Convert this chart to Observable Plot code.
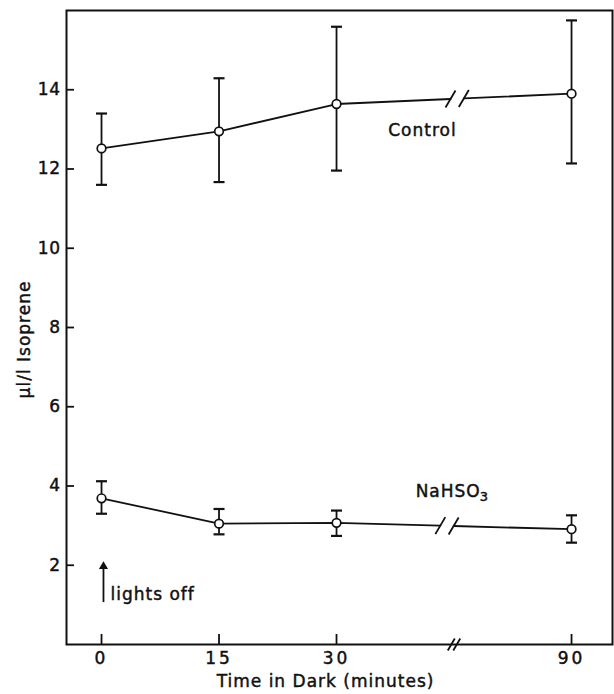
<!DOCTYPE html>
<html><head><meta charset="utf-8">
<script src="https://cdn.jsdelivr.net/npm/d3@7"></script>
<script src="https://cdn.jsdelivr.net/npm/@observablehq/plot@0.6"></script>
<style>
body{margin:0;background:#fff}
svg text{letter-spacing:1px;stroke:#111;stroke-width:0.45px}
g[aria-label="x-axis tick label"] text{letter-spacing:3px}
g[aria-label="y-axis tick label"] text{letter-spacing:0.5px}
</style>
</head><body><div id="chart"></div>
<script>
// Data
const times = [0, 15, 30, 90];
const tickLabels = ["0", "15", "30", "90"];
const seriesNames = ["Control", "NaHSO3"];
const control = [12.52, 12.95, 13.64, 13.90];
const controlLo = [11.60, 11.67, 11.96, 12.14];
const controlHi = [13.40, 14.29, 15.59, 15.75];
const nahso3 = [3.69, 3.05, 3.07, 2.91];
const nahso3Lo = [3.30, 2.78, 2.74, 2.57];
const nahso3Hi = [4.12, 3.42, 3.38, 3.26];
const yTicks = [2, 4, 6, 8, 10, 12, 14];
const breakCenters = [45.4, 44.1];   // axis position of the break on each line
const axisBreak = 45;
const xAxisLabel = "Time in Dark (minutes)";
const yAxisLabel = "μl/l Isoprene";
const annotation = ["lights off"];

// broken time axis: 90 min drawn at position 60
const pos = t => t > 30 ? t - 30 : t;
const axisTicks = times.map(pos);

const seriesVals = [[control, controlLo, controlHi], [nahso3, nahso3Lo, nahso3Hi]];
const rows = [];
seriesVals.forEach(([v, lo, hi], s) => times.forEach((t, i) =>
  rows.push({series: seriesNames[s], x: pos(t), y: v[i], lo: lo[i], hi: hi[i]})));

// line segments split at the break
const halfGap = 0.85;
const segs = [], slashes = [];
seriesVals.forEach(([v], s) => {
  const x30 = pos(30), x90 = pos(90);
  const at = x => v[2] + (v[3] - v[2]) * (x - x30) / (x90 - x30);
  const bl = breakCenters[s] - halfGap, br = breakCenters[s] + halfGap;
  times.slice(0, 3).forEach((t, i) => segs.push({seg: s + "a", x: pos(t), y: v[i]}));
  segs.push({seg: s + "a", x: bl, y: at(bl)});
  segs.push({seg: s + "b", x: br, y: at(br)});
  segs.push({seg: s + "b", x: x90, y: v[3]});
  slashes.push({x: bl, y: at(bl)}, {x: br, y: at(br)});
});
const axisSlashes = [{x: axisBreak - 0.35, y: 0}, {x: axisBreak + 0.35, y: 0}];

const slash = {draw(ctx) { ctx.moveTo(-5, 8.5); ctx.lineTo(5, -8.5); }};
const smallSlash = {draw(ctx) { ctx.moveTo(-3.5, 6); ctx.lineTo(3.5, -6); }};
const cap = {draw(ctx) { ctx.moveTo(-5.5, 0); ctx.lineTo(5.5, 0); }};

const ink = "#111";
const nameMain = seriesNames[1].slice(0, -1), nameSub = seriesNames[1].slice(-1);
const chart = Plot.plot({
  width: 614, height: 694,
  marginLeft: 66, marginRight: 2, marginTop: 10, marginBottom: 50,
  style: {fontFamily: "DejaVu Sans", fontSize: "17px", background: "white", color: ink},
  x: {domain: [-4.47, 65.23]},
  y: {domain: [0, 16]},
  marks: [
    Plot.frame({stroke: ink, strokeWidth: 2}),
    Plot.axisY(yTicks, {tickSize: -8, tickPadding: 14, fontSize: 17, strokeWidth: 1.8, label: null}),
    Plot.axisX(axisTicks, {tickSize: -10, tickPadding: 17, fontSize: 17, strokeWidth: 1.8, label: null,
      tickFormat: d => tickLabels[axisTicks.indexOf(d)]}),
    Plot.dot(axisSlashes, {x: "x", y: "y", symbol: smallSlash, fill: "none", stroke: ink, strokeWidth: 1.8}),
    Plot.line(segs, {x: "x", y: "y", z: "seg", stroke: ink, strokeWidth: 1.8}),
    Plot.dot(slashes, {x: "x", y: "y", symbol: slash, fill: "none", stroke: ink, strokeWidth: 1.8}),
    Plot.ruleX(rows, {x: "x", y1: "lo", y2: "hi", stroke: ink, strokeWidth: 1.8}),
    Plot.dot(rows, {x: "x", y: "lo", symbol: cap, fill: "none", stroke: ink, strokeWidth: 2.2}),
    Plot.dot(rows, {x: "x", y: "hi", symbol: cap, fill: "none", stroke: ink, strokeWidth: 2.2}),
    Plot.dot(rows, {x: "x", y: "y", r: 4.3, fill: "white", stroke: ink, strokeWidth: 1.7}),
    Plot.text([seriesNames[0]], {x: 36.6, y: 12.97, text: d => d, textAnchor: "start", fontSize: 17, fill: ink}),
    Plot.text([nameMain], {x: 40.1, y: 3.87, text: d => d, textAnchor: "start", fontSize: 17, fill: ink}),
    Plot.text([nameSub], {x: 40.1, y: 3.87, dx: 64, dy: 6, text: d => d, textAnchor: "start", fontSize: 13, fill: ink}),
    Plot.link(annotation, {x1: 0.25, y1: 1.07, x2: 0.25, y2: 1.92, stroke: ink, strokeWidth: 1.8}),
    Plot.dot(annotation, {x: 0.25, y: 1.97, symbol: "triangle", r: 3.4, fill: ink}),
    Plot.text(annotation, {x: 0, y: 1.25, dx: 9, text: d => d, textAnchor: "start", fontSize: 17, fill: ink}),
    Plot.text([xAxisLabel], {frameAnchor: "bottom", dy: 42, dx: -14, text: d => d, fontSize: 17, fill: ink}),
    Plot.text([yAxisLabel], {frameAnchor: "left", textAnchor: "middle", dx: -42, dy: 12, rotate: -90, text: d => d, fontSize: 17, fill: ink})
  ]
});
document.getElementById("chart").append(chart);
</script>
</body></html>
